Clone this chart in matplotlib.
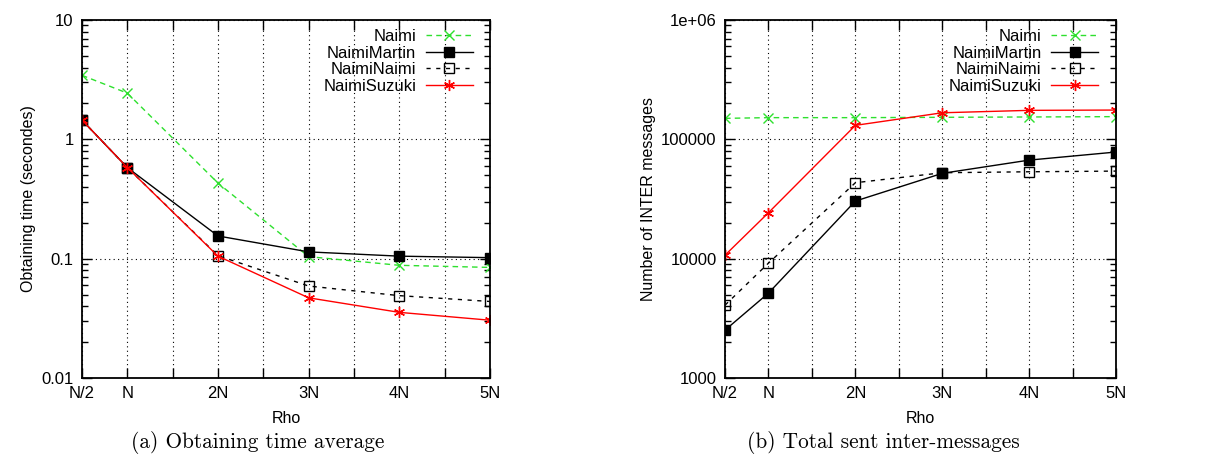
import matplotlib
matplotlib.use('Agg')
import matplotlib.pyplot as plt
from matplotlib.ticker import FixedLocator, FixedFormatter, LogLocator, NullFormatter

plt.rcParams['font.family'] = ['Liberation Sans', 'DejaVu Sans']

# Données
rho = [0.5, 1, 2, 3, 4, 5]
rho_labels = ['N/2', 'N', '2N', '3N', '4N', '5N']

# (a) temps d'obtention moyen (secondes)
t_naimi = [3.44, 2.44, 0.43, 0.104, 0.088, 0.0845]
t_martin = [1.45, 0.58, 0.155, 0.114, 0.105, 0.102]
t_naiminaimi = [1.45, 0.58, 0.106, 0.059, 0.049, 0.0438]
t_suzuki = [1.45, 0.58, 0.105, 0.047, 0.0355, 0.0305]

# (b) nombre total de messages INTER
m_naimi = [150000, 152000, 152000, 153000, 154000, 155000]
m_martin = [2520, 5150, 30400, 51900, 67000, 78300]
m_naiminaimi = [4080, 9180, 43300, 52500, 53500, 54200]
m_suzuki = [10700, 24300, 131000, 167000, 175000, 176000]

noms = ['Naimi', 'NaimiMartin', 'NaimiNaimi', 'NaimiSuzuki']
vert = '#2ee02e'


def trace(ax, series, ylim, yticks, ylabels, ylabel, leg_x):
    s_naimi, s_martin, s_nn, s_suzuki = series
    ax.plot(rho, s_naimi, color=vert, ls=(0, (4, 3)), lw=1.0, marker='x',
            ms=7, mew=1.0, label=noms[0])
    ax.plot(rho, s_martin, color='black', ls='-', lw=1.0, marker='s',
            ms=6.5, label=noms[1])
    ax.plot(rho, s_nn, color='black', ls=(0, (3, 4)), lw=1.0, marker='s',
            ms=6.5, mfc='none', mew=1.0, label=noms[2])
    ax.plot(rho, s_suzuki, color='red', ls='-', lw=1.0, marker=(6, 2, 0),
            ms=8, mew=1.0, label=noms[3])

    ax.set_yscale('log')
    ax.set_xlim(0.5, 5)
    ax.set_ylim(*ylim)

    xt = [0.5, 1, 1.5, 2, 2.5, 3, 3.5, 4, 4.5, 5]
    xl = [rho_labels[rho.index(v)] if v in rho else '' for v in xt]
    ax.xaxis.set_major_locator(FixedLocator(xt))
    ax.xaxis.set_major_formatter(FixedFormatter(xl))
    ax.yaxis.set_major_locator(FixedLocator(yticks))
    ax.yaxis.set_major_formatter(FixedFormatter(ylabels))
    ax.yaxis.set_minor_locator(LogLocator(base=10, subs=range(2, 10)))
    ax.yaxis.set_minor_formatter(NullFormatter())

    ax.tick_params(which='both', direction='in', top=True, right=True,
                   labelsize=12, width=1.0)
    ax.tick_params(which='major', length=7, pad=6)
    ax.tick_params(which='minor', length=4)
    ax.grid(True, which='major', color='black', ls=(0, (1, 3)), lw=0.8)

    for sp in ax.spines.values():
        sp.set_linewidth(1.3)

    ax.set_xlabel('Rho', fontsize=11.5, labelpad=7)
    ax.set_ylabel(ylabel, fontsize=11.5, labelpad=4)

    ax.legend(loc='upper right', bbox_to_anchor=(leg_x, 0.975),
              frameon=False, markerfirst=False, fontsize=12,
              handlelength=2.8, labelspacing=0.1, borderaxespad=0,
              borderpad=0, handletextpad=0.6)


fig = plt.figure(figsize=(12.2, 4.55), dpi=100)
ax1 = fig.add_axes([0.0672, 0.1692, 0.3344, 0.7868])
ax2 = fig.add_axes([0.5943, 0.1692, 0.3205, 0.7868])

trace(ax1, [t_naimi, t_martin, t_naiminaimi, t_suzuki], (0.01, 10),
      [0.01, 0.1, 1, 10], ['0.01', '0.1', '1', '10'],
      'Obtaining time (secondes)', 0.958)
trace(ax2, [m_naimi, m_martin, m_naiminaimi, m_suzuki], (1000, 1e6),
      [1000, 10000, 100000, 1e6], ['1000', '10000', '100000', '1e+06'],
      'Number of INTER messages', 0.954)

fig.text(258 / 1220, 1 - 443 / 455, '(a) Obtaining time average',
         ha='center', va='center', fontsize=15.3, family=['cmr10', 'DejaVu Serif'])
fig.text(883 / 1220, 1 - 443 / 455, '(b) Total sent inter-messages',
         ha='center', va='center', fontsize=15.3, family=['cmr10', 'DejaVu Serif'])

fig.savefig('out.png', dpi=100)
